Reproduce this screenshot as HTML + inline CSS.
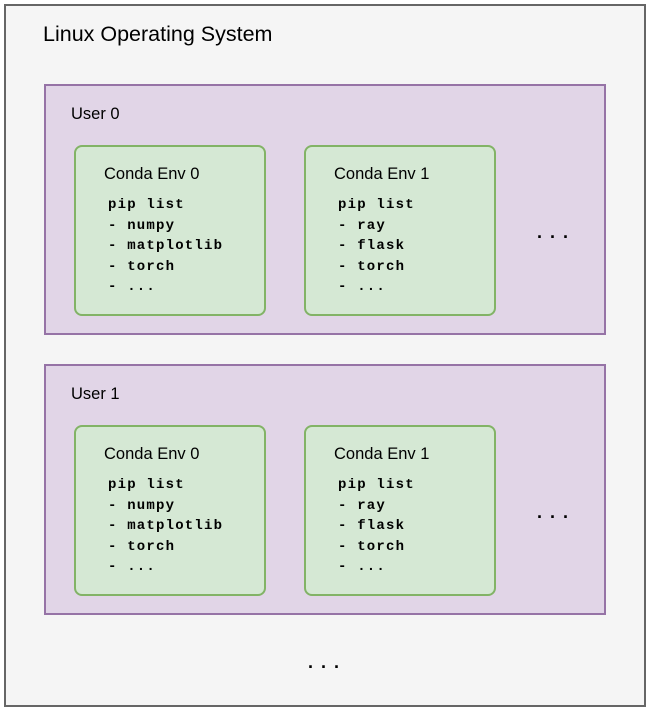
<!DOCTYPE html>
<html><head><style>
body{margin:0;width:650px;height:711px;background:#fff;position:relative;overflow:hidden;font-family:"Liberation Sans","DejaVu Sans",sans-serif}
div{position:absolute;box-sizing:border-box}
.outer{left:4px;top:4px;width:642px;height:703px;background:#f5f5f5;border:2px solid #666}
.user{left:44px;width:562px;height:251px;background:#e1d5e7;border:2px solid #9673a6}
.env{width:192px;height:171px;background:#d5e8d4;border:2px solid #82b366;border-radius:8px}
.t{color:#000;white-space:nowrap}
.h{font-size:16.5px}
.code{font-family:"Liberation Mono","Courier New",monospace;font-weight:bold;font-size:14px;letter-spacing:1.2px;line-height:20.5px;white-space:pre}
.dots{font-size:18px;letter-spacing:8px;font-weight:bold}
</style></head><body>
<div class="outer"></div>
<div class="t" style="left:43px;top:22px;font-size:21.5px">Linux Operating System</div>

<div class="user" style="top:84px"></div>
<div class="t h" style="left:71px;top:105px">User 0</div>
<div class="env" style="left:74px;top:145px"></div>
<div class="t h" style="left:104px;top:165px">Conda Env 0</div>
<div class="t code" style="left:108px;top:195px">pip list
- numpy
- matplotlib
- torch
- ...</div>
<div class="env" style="left:304px;top:145px"></div>
<div class="t h" style="left:334px;top:165px">Conda Env 1</div>
<div class="t code" style="left:338px;top:195px">pip list
- ray
- flask
- torch
- ...</div>
<div class="t dots" style="left:537px;top:222px">...</div>

<div class="user" style="top:364px"></div>
<div class="t h" style="left:71px;top:385px">User 1</div>
<div class="env" style="left:74px;top:425px"></div>
<div class="t h" style="left:104px;top:445px">Conda Env 0</div>
<div class="t code" style="left:108px;top:475px">pip list
- numpy
- matplotlib
- torch
- ...</div>
<div class="env" style="left:304px;top:425px"></div>
<div class="t h" style="left:334px;top:445px">Conda Env 1</div>
<div class="t code" style="left:338px;top:475px">pip list
- ray
- flask
- torch
- ...</div>
<div class="t dots" style="left:537px;top:502px">...</div>

<div class="t dots" style="left:308px;top:652px">...</div>
</body></html>
